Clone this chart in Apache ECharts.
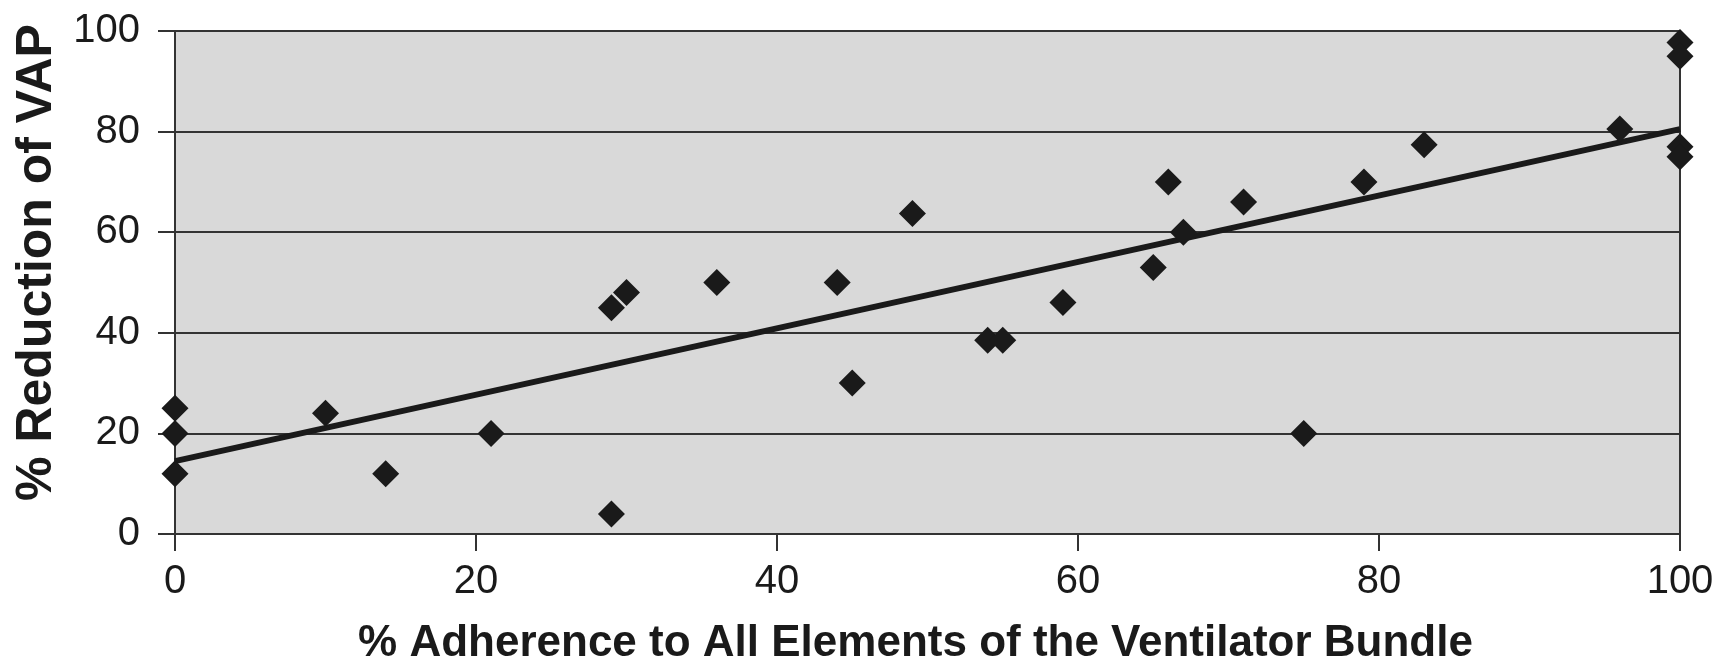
<!DOCTYPE html>
<html>
<head>
<meta charset="utf-8">
<script src="https://cdn.jsdelivr.net/npm/echarts@6/dist/echarts.min.js"></script>
<style>
  html, body { margin: 0; padding: 0; background: #ffffff; }
  #chart { width: 1733px; height: 656px; }
</style>
</head>
<body>
<div id="chart"></div>
<script>
// Data
const adherence = [0, 0, 0, 10, 14, 21, 29, 29, 30, 36, 44, 45, 49, 54, 55, 59, 65, 66, 67, 71, 75, 79, 83, 96, 100, 100, 100, 100];
const reduction = [25, 20, 12, 24, 12, 20, 4, 45, 48, 50, 50, 30, 63.7, 38.5, 38.5, 46, 53, 70, 60, 66, 20, 70, 77.4, 80.5, 97.7, 95, 77, 75];
const trendX = [0, 100];
const trendY = [14.5, 80.5];
const xTitle = '% Adherence to All Elements of the Ventilator Bundle';
const yTitle = '% Reduction of VAP';

const points = adherence.map((x, i) => [x, reduction[i]]);
const trend = trendX.map((x, i) => [x, trendY[i]]);

const FONT = "'Liberation Sans', Arial, Helvetica, sans-serif";
const DARK = '#1a1a1a';
const LINE = '#333333';

const chart = echarts.init(document.getElementById('chart'), null, { renderer: 'canvas' });
chart.setOption({
  animation: false,
  backgroundColor: '#ffffff',
  grid: {
    left: 175, right: 53, top: 31, bottom: 122,
    containLabel: false, outerBoundsMode: 'none',
    show: true, backgroundColor: '#d9d9d9', borderColor: LINE, borderWidth: 2
  },
  xAxis: {
    type: 'value', min: 0, max: 100, interval: 20,
    name: xTitle, nameLocation: 'middle', nameGap: 88,
    nameTextStyle: { fontFamily: FONT, fontSize: 44, fontWeight: 'bold', color: DARK, padding: [0, 24, 0, 0] },
    axisLine: { show: true, onZero: false, lineStyle: { color: LINE, width: 2 } },
    axisTick: { show: true, inside: false, length: 17, lineStyle: { color: LINE, width: 2 } },
    axisLabel: { fontFamily: FONT, fontSize: 40, color: DARK, margin: 28 },
    splitLine: { show: false }
  },
  yAxis: {
    type: 'value', min: 0, max: 100, interval: 20,
    name: yTitle, nameLocation: 'middle', nameGap: 107,
    nameTextStyle: { fontFamily: FONT, fontSize: 50, fontWeight: 'bold', color: DARK, padding: [0, 0, 0, 40] },
    axisLine: { show: true, lineStyle: { color: LINE, width: 2 } },
    axisTick: { show: true, inside: false, length: 17, lineStyle: { color: LINE, width: 2 } },
    axisLabel: { fontFamily: FONT, fontSize: 40, color: DARK, margin: 35 },
    splitLine: { show: true, lineStyle: { color: LINE, width: 2 } }
  },
  series: [
    {
      type: 'line', data: trend, symbol: 'none', silent: true,
      lineStyle: { color: DARK, width: 6 }, z: 3
    },
    {
      type: 'scatter', data: points, symbol: 'diamond', symbolSize: 27, clip: false,
      itemStyle: { color: DARK, opacity: 1 }, z: 4
    }
  ]
});
</script>
</body>
</html>
